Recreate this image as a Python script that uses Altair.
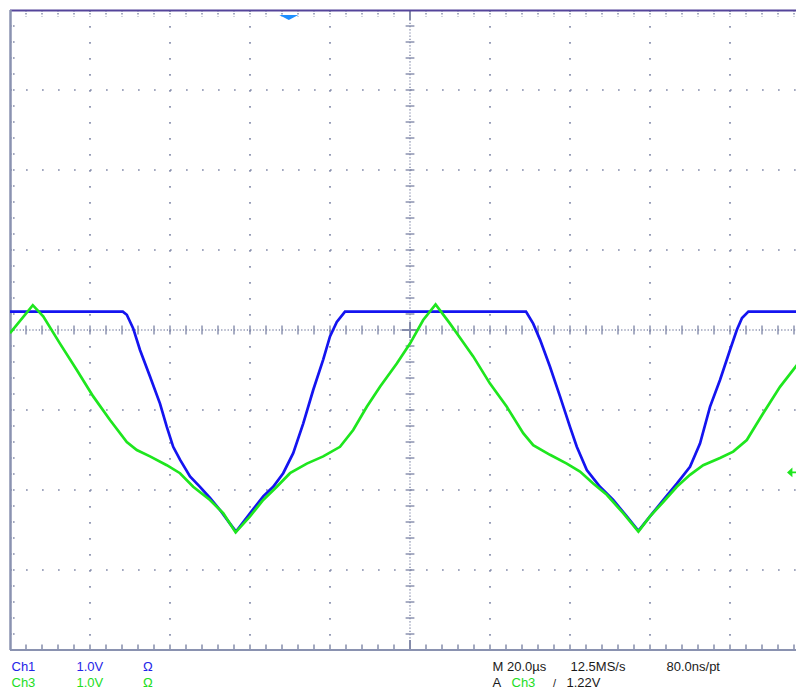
import altair as alt
import pandas as pd
import numpy as np

# ---------------- data (time in µs from left screen edge, volts) ----------------
ch1_t = [0.0, 28.2, 29.2, 30.8, 32.5, 35.0, 37.5, 39.2, 40.8, 42.5, 45.0, 47.5, 50.0, 52.5, 55.0, 56.5,
         60.0, 63.3, 65.8, 68.3, 70.8, 73.3, 75.8, 78.3, 80.0, 81.7, 83.75,
         129.0, 130.8, 132.5, 135.0, 137.5, 140.0, 141.7, 144.2, 147.5, 150.8, 154.2, 157.1,
         160.0, 163.3, 166.7, 170.0, 172.5, 175.0, 177.5, 180.0, 181.7, 183.0, 184.6, 198.5]
ch1_v = [3.23, 3.23, 3.19, 3.02, 2.75, 2.42, 2.08, 1.79, 1.54, 1.38, 1.17, 1.04, 0.90, 0.75, 0.58, 0.48,
         0.71, 0.92, 1.04, 1.21, 1.46, 1.83, 2.25, 2.63, 2.92, 3.10, 3.23,
         3.23, 3.08, 2.88, 2.54, 2.17, 1.79, 1.54, 1.25, 1.04, 0.875, 0.67, 0.49,
         0.67, 0.875, 1.08, 1.29, 1.58, 2.04, 2.375, 2.75, 3.00, 3.15, 3.23, 3.23]

ch3_t = [0.0, 5.7, 8.3, 12.5, 16.7, 20.8, 25.0, 29.2, 31.7, 35.0, 39.2, 42.5, 45.8, 50.0, 53.3, 56.4,
         60.0, 63.3, 66.7, 70.0, 74.2, 78.3, 82.5, 85.8, 89.2, 92.5, 96.7, 100.0, 103.3, 106.4,
         110.0, 111.7, 115.8, 120.0, 124.2, 128.3, 130.8, 135.0, 139.2, 142.5, 145.8, 149.2, 153.3, 157.1,
         160.0, 163.3, 166.7, 170.0, 173.3, 177.5, 180.8, 184.2, 188.3, 192.5, 198.5]
ch3_v = [2.96, 3.31, 3.17, 2.83, 2.50, 2.17, 1.875, 1.60, 1.50, 1.42, 1.31, 1.21, 1.04, 0.875, 0.71, 0.47,
         0.67, 0.875, 1.04, 1.21, 1.33, 1.42, 1.54, 1.75, 2.04, 2.29, 2.58, 2.83, 3.125, 3.32,
         3.08, 2.96, 2.67, 2.33, 2.04, 1.71, 1.56, 1.44, 1.33, 1.23, 1.08, 0.94, 0.71, 0.48,
         0.67, 0.85, 1.04, 1.19, 1.31, 1.40, 1.48, 1.625, 1.96, 2.29, 2.675]

trigger_time = [69.7]    # µs, trigger position marker
trigger_level = [1.22]   # V, Ch3 trigger level

major_t = [20, 40, 60, 80, 120, 140, 160, 180]
major_v = [6, 5, 4, 2, 1, 0]
center_t = [100]
center_v = [3]
minor_t = list(np.arange(4, 198.5, 4))
minor_v = list(np.round(np.arange(-0.8, 7.0, 0.2), 2))

ch_labels = ["Ch1", "Ch3"]
scale_labels = ["1.0V", "1.0V"]
coupling_labels = ["Ω", "Ω"]
timebase_label = ["M 20.0µs", "12.5MS/s", "80.0ns/pt"]
trigger_labels = ["A", "Ch3", "/", "1.22V"]

# ---------------- styling ----------------
W, H = 786, 640
T_MAX = 196.5
BLUE = "#1414f0"
GREEN = "#1ee61e"
GRID = "#858cab"
FONT = "Liberation Sans"

xs = alt.Scale(domain=[0, T_MAX], nice=False, zero=False)
ys = alt.Scale(domain=[-1, 7], nice=False, zero=False)


def X(f):
    return alt.X(f, type="quantitative", scale=xs, axis=None)


def Y(f):
    return alt.Y(f, type="quantitative", scale=ys, axis=None)


one = pd.DataFrame({"a": [0]})

layers = []

# major grid (dots every 16 px)
layers.append(alt.Chart(pd.DataFrame({"t": major_t})).mark_rule(
    color=GRID, strokeWidth=1.7, strokeDash=[1.7, 14.3]).encode(
    x=X("t"), y=alt.value(0), y2=alt.value(H)))
layers.append(alt.Chart(pd.DataFrame({"v": major_v})).mark_rule(
    color=GRID, strokeWidth=1.7, strokeDash=[1.7, 14.3]).encode(
    y=Y("v"), x=alt.value(0), x2=alt.value(W)))

# centre crosshair (dense dots)
layers.append(alt.Chart(pd.DataFrame({"t": center_t})).mark_rule(
    color=GRID, strokeWidth=1.4, strokeDash=[1.2, 2.0]).encode(
    x=X("t"), y=alt.value(0), y2=alt.value(H)))
layers.append(alt.Chart(pd.DataFrame({"v": center_v})).mark_rule(
    color=GRID, strokeWidth=1.4, strokeDash=[1.2, 2.0]).encode(
    y=Y("v"), x=alt.value(0), x2=alt.value(W)))

# crossbar ticks on centre lines
tick_h = pd.DataFrame({"t": minor_t})
tick_h["v1"] = center_v[0] - 0.055
tick_h["v2"] = center_v[0] + 0.055
layers.append(alt.Chart(tick_h).mark_rule(color=GRID, strokeWidth=1.4).encode(
    x=X("t"), y=Y("v1"), y2="v2"))
tick_v = pd.DataFrame({"v": minor_v})
tick_v["t1"] = center_t[0] - 1.1
tick_v["t2"] = center_t[0] + 1.1
layers.append(alt.Chart(tick_v).mark_rule(color=GRID, strokeWidth=1.4).encode(
    y=Y("v"), x=X("t1"), x2="t2"))

# edge ticks
top_t = pd.DataFrame({"t": minor_t})
top_t["v1"] = 7.0
top_t["v2"] = 6.92
layers.append(alt.Chart(top_t).mark_rule(color=GRID, strokeWidth=1.5, strokeDash=[1.6, 1.4]).encode(
    x=X("t"), y=Y("v1"), y2="v2"))
bot_t = pd.DataFrame({"t": minor_t})
bot_t["v1"] = -1.0
bot_t["v2"] = -0.93
layers.append(alt.Chart(bot_t).mark_rule(color=GRID, strokeWidth=1.5).encode(
    x=X("t"), y=Y("v1"), y2="v2"))
left_t = pd.DataFrame({"v": minor_v})
left_t["t1"] = 0.0
left_t["t2"] = 1.5
layers.append(alt.Chart(left_t).mark_rule(color=GRID, strokeWidth=1.5, strokeDash=[1.6, 1.4]).encode(
    y=Y("v"), x=X("t1"), x2="t2"))

# solid centre marks at edges and centre cross
layers.append(alt.Chart(pd.DataFrame({"t": center_t})).mark_rule(color=GRID, strokeWidth=2).encode(
    x=X("t"), y=alt.value(0), y2=alt.value(10)))
layers.append(alt.Chart(pd.DataFrame({"t": center_t})).mark_rule(color=GRID, strokeWidth=2).encode(
    x=X("t"), y=alt.value(H - 10), y2=alt.value(H)))
cross = pd.DataFrame({"t": center_t, "v": center_v})
cross["t1"] = center_t[0] - 2
cross["t2"] = center_t[0] + 2
cross["v1"] = center_v[0] - 0.1
cross["v2"] = center_v[0] + 0.1
layers.append(alt.Chart(cross).mark_rule(color=GRID, strokeWidth=2).encode(
    x=X("t1"), x2="t2", y=Y("v")))
layers.append(alt.Chart(cross).mark_rule(color=GRID, strokeWidth=2).encode(
    x=X("t"), y=Y("v1"), y2="v2"))

# borders
layers.append(alt.Chart(one).mark_rule(color="#54449a", strokeWidth=2).encode(
    x=alt.value(0), x2=alt.value(W), y=alt.value(0.5)))
layers.append(alt.Chart(one).mark_rule(color="#8a92b0", strokeWidth=2).encode(
    x=alt.value(0), x2=alt.value(W), y=alt.value(H)))
layers.append(alt.Chart(one).mark_rule(color="#8a92b0", strokeWidth=2.5).encode(
    x=alt.value(0.5), y=alt.value(0), y2=alt.value(H)))

# traces
df1 = pd.DataFrame({"t": ch1_t, "v": ch1_v})
df3 = pd.DataFrame({"t": ch3_t, "v": ch3_v})
layers.append(alt.Chart(df1).mark_line(color=BLUE, strokeWidth=2.7, clip=True).encode(
    x=X("t"), y=Y("v")))
layers.append(alt.Chart(df3).mark_line(color=GREEN, strokeWidth=2.7, clip=True).encode(
    x=X("t"), y=Y("v")))

# trigger position marker
layers.append(alt.Chart(pd.DataFrame({"t": trigger_time})).mark_point(
    shape="M-1,-0.27L1,-0.27L0,0.27Z", size=361, filled=True, fill="#1e8fff", opacity=1,
    strokeWidth=0).encode(x=X("t"), y=alt.value(7.5)))

# trigger level arrow (Ch3)
layers.append(alt.Chart(pd.DataFrame({"v": trigger_level})).mark_point(
    shape="M-1,0L-0.1,-0.8L-0.1,-0.15L1,-0.15L1,0.15L-0.1,0.15L-0.1,0.8Z", size=144, filled=True,
    fill=GREEN, opacity=1, strokeWidth=0).encode(x=alt.value(W - 3), y=Y("v")))


def txt(s, x, y, color, size=13):
    return alt.Chart(one).mark_text(
        text=s, align="left", baseline="alphabetic", font=FONT, fontSize=size, color=color).encode(
        x=alt.value(x), y=alt.value(y))


L1, L2 = 661, 677
CH1_TXT = "#2424e8"
CH3_TXT = "#22dd22"
DARK = "#1a1a1a"
layers += [
    txt(ch_labels[0], 1.5, L1, CH1_TXT),
    txt(scale_labels[0], 66.5, L1, CH1_TXT),
    txt(coupling_labels[0], 133, L1, CH1_TXT),
    txt(ch_labels[1], 1.5, L2, CH3_TXT),
    txt(scale_labels[1], 66.5, L2, CH3_TXT),
    txt(coupling_labels[1], 133, L2, CH3_TXT),
    txt(timebase_label[0], 482.5, L1, DARK),
    txt(timebase_label[1], 560.5, L1, DARK),
    txt(timebase_label[2], 656.5, L1, DARK),
    txt(trigger_labels[0], 482.5, L2, DARK),
    txt(trigger_labels[1], 501.5, L2, CH3_TXT),
    txt(trigger_labels[2], 543, L2, DARK, 11),
    txt(trigger_labels[3], 556.5, L2, DARK),
]

chart = alt.layer(*layers).properties(
    width=W, height=H, padding={"left": 2, "top": 2, "right": 0, "bottom": 40},
    autosize=alt.AutoSizeParams(type="none"),
    background="white",
).configure_view(stroke=None)

chart.save("out.html", embed_options={"renderer": "svg", "actions": False})
